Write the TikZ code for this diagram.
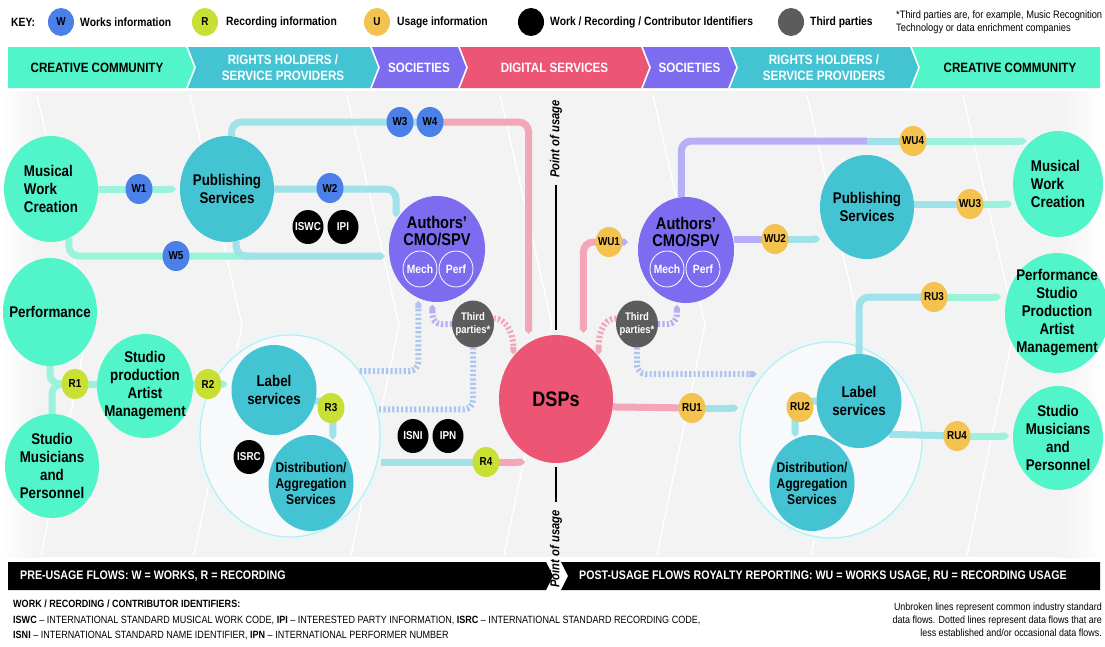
\documentclass[tikz,border=0pt]{standalone}
\usepackage{fontspec}
\setmainfont{Liberation Sans}[FakeStretch=0.86]
\usetikzlibrary{shapes.geometric,arrows.meta,positioning}

\definecolor{cmint}{HTML}{52F5C9}
\definecolor{ccyan}{HTML}{44C3D2}
\definecolor{cpurple}{HTML}{7D6CF0}
\definecolor{cpink}{HTML}{EC5574}
\definecolor{cblue}{HTML}{4B80E8}
\definecolor{cgreen}{HTML}{C8E033}
\definecolor{cyellow}{HTML}{F3C24F}
\definecolor{cgrey}{HTML}{5C5C5C}
\definecolor{cbg}{HTML}{F3F3F3}
\definecolor{cbigfill}{HTML}{F7F9FA}
\definecolor{lmint}{HTML}{9CF3DB}
\definecolor{lcyan}{HTML}{9FE2EA}
\definecolor{lpink}{HTML}{F2A6B7}
\definecolor{lpurple}{HTML}{B6AEF7}

\newcommand{\setfs}[2]{\fontsize{#1}{#2}\selectfont}

\pgfdeclarelayer{bg}
\pgfdeclarelayer{flows}
\pgfsetlayers{bg,flows,main}

\begin{document}
\begin{tikzpicture}[x=1pt, y=-1pt,
    mintnode/.style={ellipse, fill=cmint, inner sep=-30pt, outer sep=0pt, align=center, font=\bfseries\setfs{15.5}{18}},
    cyannode/.style={mintnode, fill=ccyan},
    purplenode/.style={mintnode, fill=cpurple},
    bigsize/.style={minimum width=94pt, minimum height=106pt},
    midsize/.style={minimum width=85pt, minimum height=94pt},
    badge/.style={ellipse, minimum width=27pt, minimum height=30pt, inner sep=-10pt, outer sep=0pt, font=\bfseries\setfs{11.5}{12}},
    keysize/.style={minimum width=26pt, minimum height=28pt},
    wbadge/.style={badge, fill=cblue},
    rbadge/.style={badge, fill=cgreen},
    ubadge/.style={badge, fill=cyellow},
    idbadge/.style={badge, fill=black, text=white, minimum width=31pt, minimum height=34pt},
    thirdnode/.style={ellipse, fill=cgrey, text=white, minimum width=42pt, minimum height=47pt, inner sep=-10pt, outer sep=0pt, align=center, font=\bfseries\setfs{11}{13.5}},
    subnode/.style={ellipse, draw=white, line width=0.8pt, minimum width=34pt, minimum height=36pt, inner sep=-10pt, text=white, font=\bfseries\setfs{12}{12}},
    socname/.style={align=center, inner sep=0pt, font=\bfseries\setfs{17}{17.5}},
    bigring/.style={ellipse, fill=cbigfill, draw=lcyan!70, line width=1.2pt, minimum width=180pt, minimum height=202pt, preaction={draw=lcyan!25, line width=7pt}},
    headtxt/.style={align=center, inner sep=0pt, font=\bfseries\setfs{13.5}{16}},
    keytxt/.style={inner sep=0pt, font=\bfseries\setfs{12}{12}},
    notetxt/.style={inner sep=0pt, font=\setfs{10.8}{13}},
    foottxt/.style={inner sep=0pt, font=\setfs{10.5}{15.5}},
    bandtxt/.style={inner sep=0pt, text=white, font=\bfseries\setfs{12.4}{12.4}},
    poustyle/.style={inner sep=0pt, font=\bfseries\itshape\setfs{13}{13}},
    flow/.style={line width=7pt, rounded corners=10pt},
    flowtip/.style={-{Triangle Cap}, shorten >=4pt},
    mintflow/.style={flow, draw=lmint},
    cyanflow/.style={flow, draw=lcyan},
    pinkflow/.style={flow, draw=lpink},
    purpleflow/.style={flow, draw=lpurple},
    dotflow/.style={line width=6pt, dash pattern=on 2.2pt off 2.2pt, rounded corners=9pt},
    dotpurple/.style={dotflow, draw=lpurple},
    dotpink/.style={dotflow, draw=lpink},
    dotmix/.style={dotflow, draw=lpurple!55!lcyan}
  ]
  \useasboundingbox (0,0) rectangle (1105,646);

  % background, chevron guides and the two grouping rings
  \begin{pgfonlayer}{bg}
    \fill[white] (0,0) rectangle (1105,646);
    \fill[cbg] (0,91) rectangle (1105,557);
    \shade[left color=white, right color=cbg] (0,91) rectangle (40,557);
    \shade[left color=cbg, right color=white] (1060,91) rectangle (1105,557);
    \foreach \xc in {37,190,347,500,653,807,963}
      \draw[white, line width=1.3pt] (\xc,95) -- (\xc+52,325) -- (\xc+4,555);
    \node[bigring] (bigL) at (290,436) {};
    \node[bigring, minimum width=182pt, minimum height=196pt] (bigR) at (831,440) {};
  \end{pgfonlayer}

  % Key
  \node[font=\bfseries\setfs{12}{12}, anchor=west, inner sep=0pt] (keyhead) at (11,22) {KEY:};
  \node[wbadge, keysize] (keyw) at (61,22) {W};
  \node[keytxt, right=6pt of keyw] (keywt) {Works information};
  \node[rbadge, keysize] (keyr) at (205,22) {R};
  \node[keytxt, right=8pt of keyr] (keyrt) {Recording information};
  \node[ubadge, keysize] (keyu) at (377,22) {U};
  \node[keytxt, right=7pt of keyu] (keyut) {Usage information};
  \node[badge, keysize, fill=black] (keyid) at (531,22) {};
  \node[keytxt, right=6pt of keyid] (keyidt) {Work / Recording / Contributor Identifiers};
  \node[badge, keysize, fill=cgrey] (keytp) at (791,22) {};
  \node[keytxt, right=6pt of keytp] (keytpt) {Third parties};
  \node[notetxt, anchor=west, align=left] (tpnote) at (896,22) {*Third parties are, for example, Music Recognition\\Technology or data enrichment companies};

  % Header chevrons
  \foreach \xa/\xb/\nl/\nr/\fc/\tc/\lbl [count=\i] in {
      8/186/0/8/cmint/black/{CREATIVE COMMUNITY},
      188/370/8/8/ccyan/white/{RIGHTS HOLDERS /\\SERVICE PROVIDERS},
      372/458/8/8/cpurple/white/{SOCIETIES},
      460/641/8/8/cpink/white/{DIGITAL SERVICES},
      643/728/8/8/cpurple/white/{SOCIETIES},
      730/910/8/8/ccyan/white/{RIGHTS HOLDERS /\\SERVICE PROVIDERS},
      912/1100/8/0/cmint/black/{CREATIVE COMMUNITY}} {
    \fill[\fc] (\xa,47) -- (\xb,47) -- (\xb+\nr,67.5) -- (\xb,88) -- (\xa,88) -- (\xa+\nl,67.5) -- cycle;
    \node[headtxt, text=\tc] (head\i) at ({(\xa+\xb+\nl)/2},67.5) {\lbl};
  }

  % Pre-usage side
  \node[mintnode, bigsize, align=left] (mwcL) at (51,189) {Musical\\Work\\Creation};
  \node[mintnode, bigsize, minimum height=108pt] (perfL) at (50,312) {Performance};
  \node[mintnode, bigsize, minimum height=104pt] (smpL) at (52,466) {Studio\\Musicians\\and\\Personnel};
  \node[mintnode, minimum width=96pt, minimum height=104pt] (spamL) at (145,386) {Studio\\production\\Artist\\Management};
  \node[cyannode, bigsize] (pubL) at (227,189) {Publishing\\Services};
  \node[cyannode, midsize, minimum height=90pt] (labL) at (274,390) {Label\\services};
  \node[cyannode, midsize, minimum height=96pt, font=\bfseries\setfs{14}{16}] (distL) at (311,483) {Distribution/\\Aggregation\\Services};
  \node[purplenode, minimum width=96pt, minimum height=106pt] (authL) at (437,249) {};
  \node[socname] (authLt) at (437,231) {Authors'\\CMO/SPV};
  \node[subnode] (mechL) at (420,269) {Mech};
  \node[subnode] (perfsL) at (456,269) {Perf};
  \node[thirdnode] (thirdL) at (473,324) {Third\\parties*};

  % Digital services
  \node[ellipse, fill=cpink, minimum width=114pt, minimum height=128pt, inner sep=-20pt, outer sep=0pt, font=\bfseries\setfs{21}{21}] (dspC) at (556,399) {DSPs};
  \node[poustyle, rotate=90] (poutop) at (556,139) {Point of usage};
  \node[poustyle, rotate=90] (poubot) at (556,549) {Point of usage};

  % Post-usage side
  \node[purplenode, minimum width=96pt, minimum height=106pt] (authR) at (686,250) {};
  \node[socname] (authRt) at (686,232) {Authors'\\CMO/SPV};
  \node[subnode] (mechR) at (667,269) {Mech};
  \node[subnode] (perfsR) at (703,269) {Perf};
  \node[thirdnode] (thirdR) at (637,324) {Third\\parties*};
  \node[cyannode, bigsize, minimum height=104pt] (pubR) at (867,207) {Publishing\\Services};
  \node[cyannode, midsize] (labR) at (859,401) {Label\\services};
  \node[cyannode, midsize, minimum height=96pt, font=\bfseries\setfs{14}{16}] (distR) at (812,483) {Distribution/\\Aggregation\\Services};
  \node[mintnode, bigsize, minimum width=90pt, align=left] (mwcR) at (1058,184) {Musical\\Work\\Creation};
  \node[mintnode, minimum width=104pt, minimum height=120pt] (psmR) at (1057,313) {Performance\\Studio\\Production\\Artist\\Management};
  \node[mintnode, minimum width=90pt, minimum height=104pt] (smpR) at (1058,438) {Studio\\Musicians\\and\\Personnel};

  % Flow badges
  \node[wbadge] (w1) at (139,189) {W1};
  \node[wbadge] (w2) at (330,188) {W2};
  \node[wbadge] (w3) at (400,122) {W3};
  \node[wbadge] (w4) at (430,122) {W4};
  \node[wbadge] (w5) at (176,256) {W5};
  \node[rbadge] (r1) at (75,384) {R1};
  \node[rbadge] (r2) at (208,384) {R2};
  \node[rbadge] (r3) at (331,408) {R3};
  \node[rbadge] (r4) at (486,462) {R4};
  \node[ubadge] (wu1) at (609,242) {WU1};
  \node[ubadge] (wu2) at (775,239) {WU2};
  \node[ubadge] (wu3) at (970,204) {WU3};
  \node[ubadge] (wu4) at (913,141) {WU4};
  \node[ubadge] (ru1) at (692,408) {RU1};
  \node[ubadge] (ru2) at (800,407) {RU2};
  \node[ubadge] (ru3) at (934,297) {RU3};
  \node[ubadge] (ru4) at (957,436) {RU4};

  % Identifiers
  \node[idbadge] (iswc) at (308,227) {ISWC};
  \node[idbadge, right=4pt of iswc] (ipi) {IPI};
  \node[idbadge] (isrc) at (249,457) {ISRC};
  \node[idbadge] (isni) at (413,436) {ISNI};
  \node[idbadge, right=4pt of isni] (ipn) {IPN};

  % Flows
  \begin{pgfonlayer}{flows}
    % works, pre-usage
    \draw[mintflow, flowtip] (mwcL) -- (pubL);
    \draw[mintflow] (mwcL.-70) |- (w5.center) -- (pubL.-60 |- w5);
    \draw[cyanflow, flowtip] (pubL.-80) |- (authL.west |- w5);
    \draw[cyanflow, flowtip] (pubL.east) -| (authL.146);
    \draw[cyanflow] (pubL.85) |- (w4.center);
    \draw[pinkflow, flowtip, shorten >=9pt] (w4.center) -| (dspC.116);
    % recording, pre-usage
    \draw[mintflow] (perfL.south) |- (r1.center);
    \draw[mintflow] (smpL.north) |- (r1.center);
    \draw[mintflow] (r1.center) -- (spamL);
    \draw[mintflow] (spamL) -- (r2.center);
    \draw[mintflow, flowtip] (r2.center) -- (labL.west |- r2);
    \draw[cyanflow, flowtip, shorten >=2pt] (labL.-15) -| (distL.62);
    \draw[cyanflow] (bigL.east |- r4) -- (r4.center);
    \draw[pinkflow, flowtip, shorten >=0pt] (r4.center) -- (dspC.240 |- r4);
    % occasional flows, left
    \draw[dotpurple, flowtip, shorten >=3pt] (thirdL.west) -| (authL.265);
    \draw[dotmix, flowtip, shorten >=3pt] (bigL.43) -| (authL.249);
    \draw[dotmix] (thirdL.south) |- (bigL.17);
    \draw[dotpink, flowtip, shorten >=2pt] (thirdL.15) .. controls +(16,0) and +(0,-18) .. (dspC.135);
    % works, post-usage
    \draw[pinkflow, {Triangle Cap}-, shorten <=10pt] (dspC.64) |- (wu1.center);
    \draw[purpleflow, flowtip, shorten >=10pt] (wu1.center) -- (authR.west |- wu1);
    \draw[purpleflow] (authR.east |- wu2) -- (wu2.center);
    \draw[cyanflow, flowtip, shorten >=0pt] (wu2.center) -- (pubR.west |- wu2);
    \draw[cyanflow] (pubR.east |- wu3) -- (wu3.center);
    \draw[mintflow, flowtip, shorten >=1pt] (wu3.center) -- (mwcR.west |- wu3);
    \draw[purpleflow] (authR.95) |- (pubR.north |- wu4);
    \draw[cyanflow] (pubR.north |- wu4) -- (wu4.center);
    \draw[mintflow, flowtip, shorten >=1pt] (wu4.center) -- (mwcR.128 |- wu4);
    % recording, post-usage
    \draw[pinkflow] (dspC.-8) -- (ru1.center);
    \draw[cyanflow, flowtip, shorten >=1pt] (ru1.center) -- (bigR.west |- ru1);
    \draw[cyanflow, flowtip, shorten >=2pt] (labR.west) -| (distR.111);
    \draw[cyanflow] (labR.north) |- (ru3.center);
    \draw[mintflow, flowtip] (ru3.center) -- (psmR.west |- ru3);
    \draw[cyanflow] (labR.-48) -- (ru4.center);
    \draw[mintflow, flowtip] (ru4.center) -- (smpR.west |- ru4);
    % occasional flows, right
    \draw[dotpurple, flowtip, shorten >=3pt] (thirdR.east) -| (authR.260);
    \draw[dotmix, flowtip, shorten >=6pt] (thirdR.south) |- (bigR.136);
    \draw[dotpink, flowtip, shorten >=2pt] (thirdR.165) .. controls +(-16,0) and +(0,-18) .. (dspC.45);
    % point of usage
    \draw[line width=1.3pt, shorten <=7pt, shorten >=5pt] (poutop.west) -- (dspC.north);
    \draw[line width=1.3pt, shorten <=4pt, shorten >=8pt] (dspC.south) -- (poubot.east);
  \end{pgfonlayer}

  % Bottom bands
  \fill[black] (8,562) -- (546,562) -- (553,576) -- (546,590) -- (8,590) -- cycle;
  \node[bandtxt, anchor=west] (prelbl) at (20,576) {PRE-USAGE FLOWS: W = WORKS, R = RECORDING};
  \fill[black] (561,562) -- (1100,562) -- (1100,590) -- (561,590) -- (568,576) -- cycle;
  \node[bandtxt, anchor=west] (postlbl) at (579,576) {POST-USAGE FLOWS ROYALTY REPORTING: WU = WORKS USAGE, RU = RECORDING USAGE};

  % Footnotes
  \node[foottxt, anchor=north west, align=left] (idnote) at (13,600) {\textbf{WORK / RECORDING / CONTRIBUTOR IDENTIFIERS:}\\
    \textbf{ISWC} -- INTERNATIONAL STANDARD MUSICAL WORK CODE, \textbf{IPI} -- INTERESTED PARTY INFORMATION, \textbf{ISRC} -- INTERNATIONAL STANDARD RECORDING CODE,\\
    \textbf{ISNI} -- INTERNATIONAL STANDARD NAME IDENTIFIER, \textbf{IPN} -- INTERNATIONAL PERFORMER NUMBER};
  \node[foottxt, anchor=north east, align=right, font=\setfs{10.4}{13}] (linenote) at (1102,603) {Unbroken lines represent common industry standard\\data flows. Dotted lines represent data flows that are\\less established and/or occasional data flows.};
\end{tikzpicture}
\end{document}
